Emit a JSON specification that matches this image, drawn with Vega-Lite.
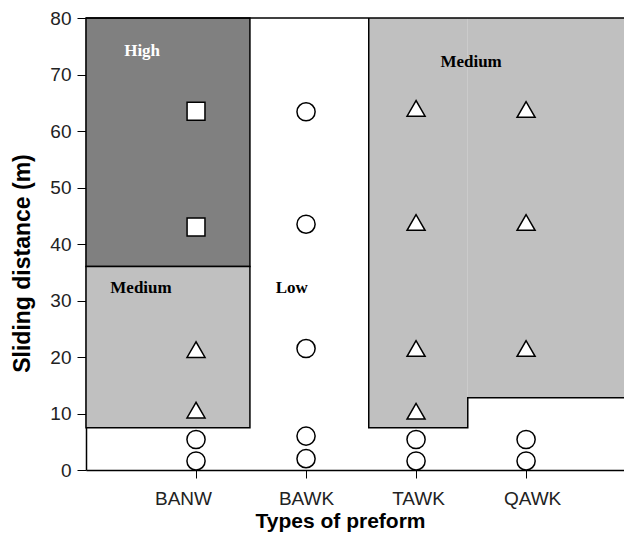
{
  "$schema": "https://vega.github.io/schema/vega-lite/v6.json",
  "width": 538,
  "height": 452,
  "autosize": {"type": "none"},
  "padding": {"left": 86, "top": 18, "right": 0, "bottom": 68},
  "config": {"view": {"stroke": null}},
  "datasets": {
    "regions": [
      {"x": 0, "x2": 1.49, "y": 36, "y2": 80, "level": "High"},
      {"x": 0, "x2": 1.49, "y": 7.5, "y2": 36, "level": "MediumL"}
    ],
    "rightfill": [
      {"x": 2.57, "x2": 3.47, "y": 7.5, "y2": 80},
      {"x": 3.47, "x2": 4.89, "y": 12.8, "y2": 80}
    ],
    "outline": [
      {"x": 2.57, "y": 80, "o": 1},
      {"x": 2.57, "y": 7.5, "o": 2},
      {"x": 3.47, "y": 7.5, "o": 3},
      {"x": 3.47, "y": 12.8, "o": 4},
      {"x": 4.89, "y": 12.8, "o": 5}
    ],
    "points": [
      {"type": "BANW", "x": 1, "y": 63.5, "shape": "square"},
      {"type": "BANW", "x": 1, "y": 43.0, "shape": "square"},
      {"type": "BANW", "x": 1, "y": 21.3, "shape": "triangle"},
      {"type": "BANW", "x": 1, "y": 10.6, "shape": "triangle"},
      {"type": "BANW", "x": 1, "y": 5.4, "shape": "circle"},
      {"type": "BANW", "x": 1, "y": 1.6, "shape": "circle"},
      {"type": "BAWK", "x": 2, "y": 63.4, "shape": "circle"},
      {"type": "BAWK", "x": 2, "y": 43.5, "shape": "circle"},
      {"type": "BAWK", "x": 2, "y": 21.5, "shape": "circle"},
      {"type": "BAWK", "x": 2, "y": 6.0, "shape": "circle"},
      {"type": "BAWK", "x": 2, "y": 2.0, "shape": "circle"},
      {"type": "TAWK", "x": 3, "y": 64.0, "shape": "triangle"},
      {"type": "TAWK", "x": 3, "y": 43.8, "shape": "triangle"},
      {"type": "TAWK", "x": 3, "y": 21.5, "shape": "triangle"},
      {"type": "TAWK", "x": 3, "y": 10.4, "shape": "triangle"},
      {"type": "TAWK", "x": 3, "y": 5.4, "shape": "circle"},
      {"type": "TAWK", "x": 3, "y": 1.6, "shape": "circle"},
      {"type": "QAWK", "x": 4, "y": 63.8, "shape": "triangle"},
      {"type": "QAWK", "x": 4, "y": 43.8, "shape": "triangle"},
      {"type": "QAWK", "x": 4, "y": 21.5, "shape": "triangle"},
      {"type": "QAWK", "x": 4, "y": 5.4, "shape": "circle"},
      {"type": "QAWK", "x": 4, "y": 1.6, "shape": "circle"}
    ],
    "labels": [
      {"x": 0.51, "y": 74.1, "text": "High", "c": "white"},
      {"x": 0.5, "y": 32.2, "text": "Medium", "c": "black"},
      {"x": 1.87, "y": 32.2, "text": "Low", "c": "black"},
      {"x": 3.5, "y": 72.3, "text": "Medium", "c": "black"}
    ]
  },
  "layer": [
    {
      "data": {"name": "regions"},
      "mark": {"type": "rect", "stroke": "black", "strokeWidth": 1.5},
      "encoding": {
        "x": {"field": "x", "type": "quantitative", "scale": {"domain": [0, 4.89], "nice": false, "zero": false},
          "axis": {"values": [1, 2, 3, 4], "labelExpr": "datum.value == 1 ? 'BANW' : datum.value == 2 ? 'BAWK' : datum.value == 3 ? 'TAWK' : 'QAWK'",
            "title": "Types of preform", "titleFont": "Liberation Sans", "titleFontSize": 21, "titleFontWeight": "bold", "titleColor": "black",
            "titleX": 254, "titleY": 57, "titleBaseline": "alphabetic", "titleAlign": "center",
            "labelFont": "Liberation Sans", "labelFontSize": 19, "labelColor": "#222", "labelBaseline": "alphabetic", "labelPadding": 26,
            "labelOffset": {"condition": [{"test": "datum.value == 1", "value": -13}, {"test": "datum.value == 3", "value": 2}, {"test": "datum.value == 4", "value": 6}], "value": 0},
            "grid": false, "domainColor": "black", "domainWidth": 1.5, "tickColor": "black", "tickSize": 8, "tickWidth": 1}},
        "x2": {"field": "x2"},
        "y": {"field": "y", "type": "quantitative", "scale": {"domain": [0, 80], "nice": false},
          "axis": {"values": [0, 10, 20, 30, 40, 50, 60, 70, 80], "title": "Sliding distance (m)", "titleFont": "Liberation Sans", "titleFontSize": 23, "titleFontWeight": "bold", "titleColor": "black",
            "titleX": -64, "titleY": 245, "titleBaseline": "middle", "titleAlign": "center", "titleAngle": -90,
            "labelFont": "Liberation Sans", "labelFontSize": 19, "labelColor": "#222", "labelPadding": 6,
            "grid": false, "domainColor": "black", "domainWidth": 1.5, "tickColor": "black", "tickSize": 9, "tickWidth": 1}},
        "y2": {"field": "y2"},
        "fill": {"field": "level", "type": "nominal", "scale": {"domain": ["High", "MediumL"], "range": ["#808080", "#c0c0c0"]}, "legend": null}
      }
    },
    {
      "data": {"name": "rightfill"},
      "mark": {"type": "rect", "fill": "#c0c0c0"},
      "encoding": {
        "x": {"field": "x", "type": "quantitative"},
        "x2": {"field": "x2"},
        "y": {"field": "y", "type": "quantitative"},
        "y2": {"field": "y2"}
      }
    },
    {
      "data": {"name": "outline"},
      "mark": {"type": "line", "color": "black", "strokeWidth": 1.5},
      "encoding": {
        "x": {"field": "x", "type": "quantitative"},
        "y": {"field": "y", "type": "quantitative"},
        "order": {"field": "o", "type": "quantitative"}
      }
    },
    {
      "data": {"values": [{"y": 80}]},
      "mark": {"type": "rule", "color": "black", "strokeWidth": 1.5},
      "encoding": {
        "y": {"field": "y", "type": "quantitative"}
      }
    },
    {
      "data": {"name": "points"},
      "mark": {"type": "point", "filled": true, "fill": "white", "stroke": "black", "strokeWidth": 1.5, "opacity": 1},
      "encoding": {
        "x": {"field": "x", "type": "quantitative"},
        "y": {"field": "y", "type": "quantitative"},
        "shape": {"field": "shape", "type": "nominal", "scale": {"domain": ["square", "triangle", "circle"], "range": ["square", "triangle-up", "circle"]}, "legend": null},
        "size": {"field": "shape", "type": "nominal", "scale": {"domain": ["square", "triangle", "circle"], "range": [320, 330, 350]}, "legend": null}
      }
    },
    {
      "data": {"name": "labels"},
      "mark": {"type": "text", "font": "Liberation Serif", "fontWeight": "bold", "fontSize": 17, "align": "center", "baseline": "middle"},
      "encoding": {
        "x": {"field": "x", "type": "quantitative"},
        "y": {"field": "y", "type": "quantitative"},
        "text": {"field": "text"},
        "color": {"field": "c", "type": "nominal", "scale": null}
      }
    }
  ]
}
